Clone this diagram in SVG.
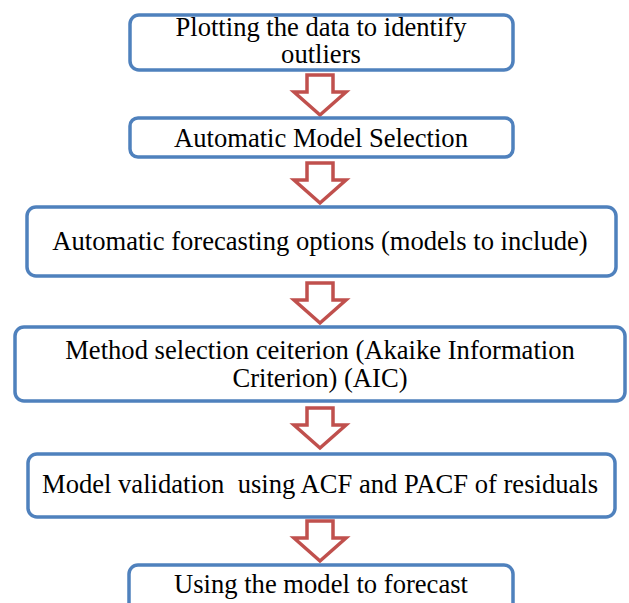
<svg xmlns="http://www.w3.org/2000/svg" width="629" height="603" viewBox="0 0 629 603">
  <style>
    .box { fill: #ffffff; stroke: #4f81bd; stroke-width: 3.5; }
    .arrow { fill: #ffffff; stroke: #c0504d; stroke-width: 3.5; stroke-linejoin: miter; }
    .label { font-family: "Liberation Serif", "Times New Roman", serif; font-size: 26.6px; fill: #000000; text-anchor: middle; white-space: pre; }
  </style>
  <defs>
    <!-- hollow block arrow pointing down, origin at the top centre of the stem -->
    <path id="down" d="M-13,0 H13 V17 H26 L0,40 L-26,17 H-13 Z"/>
  </defs>
  <rect x="0" y="0" width="629" height="603" fill="#ffffff"/>

  <g id="connectors">
    <use href="#down" class="arrow" x="320" y="75"/>
    <use href="#down" class="arrow" x="320" y="163"/>
    <use href="#down" class="arrow" x="320" y="283"/>
    <use href="#down" class="arrow" x="320" y="408"/>
    <use href="#down" class="arrow" x="320" y="521"/>
  </g>

  <g id="node-plot">
    <rect class="box" x="130" y="15" width="383" height="55" rx="9"/>
    <text class="label"><tspan x="321" y="36">Plotting the data to identify</tspan><tspan x="321" y="63">outliers</tspan></text>
  </g>
  <g id="node-auto-select">
    <rect class="box" x="130" y="118" width="383" height="39" rx="8"/>
    <text class="label" x="321" y="147">Automatic Model Selection</text>
  </g>
  <g id="node-options">
    <rect class="box" x="27" y="207" width="589" height="69" rx="9"/>
    <text class="label" x="320" y="250">Automatic forecasting options (models to include)</text>
  </g>
  <g id="node-criterion">
    <rect class="box" x="15" y="327" width="610" height="74" rx="9"/>
    <text class="label"><tspan x="320" y="359">Method selection ceiterion (Akaike Information</tspan><tspan x="320" y="387">Criterion) (AIC)</tspan></text>
  </g>
  <g id="node-validation">
    <rect class="box" x="28" y="454" width="587" height="63" rx="9"/>
    <text class="label" x="320" y="493" xml:space="preserve">Model validation  using ACF and PACF of residuals</text>
  </g>
  <g id="node-forecast">
    <rect class="box" x="129" y="565" width="384" height="50" rx="9"/>
    <text class="label" x="321" y="593">Using the model to forecast</text>
  </g>
</svg>
